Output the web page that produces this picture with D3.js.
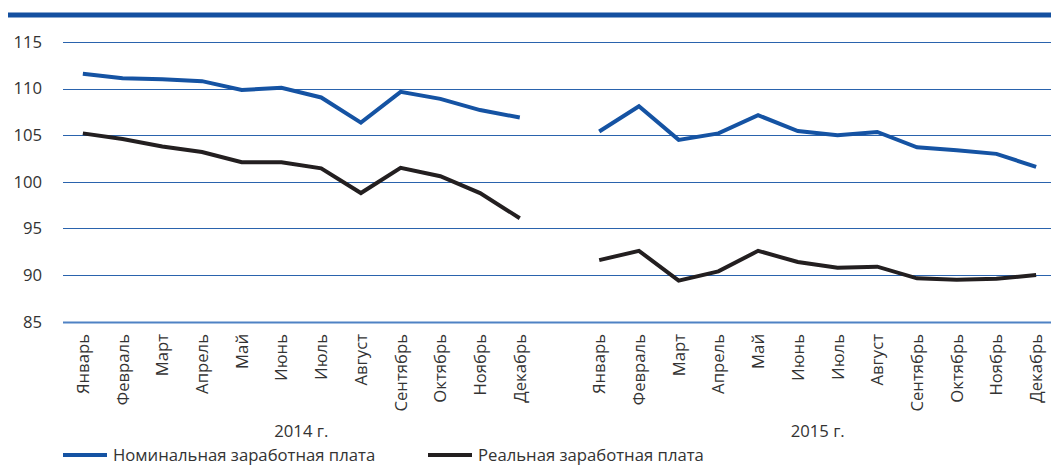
<!DOCTYPE html>
<html>
<head>
<meta charset="utf-8">
<script src="https://cdn.jsdelivr.net/npm/d3@7"></script>
<style>
  body { margin: 0; background: #fff; }
  svg text { font-family: "Open Sans", sans-serif; fill: #333; }
</style>
</head>
<body>
<div class="vis-linechart"></div>
<script>
const months = ["Январь", "Февраль", "Март", "Апрель", "Май", "Июнь", "Июль", "Август", "Сентябрь", "Октябрь", "Ноябрь", "Декабрь"];
const years = ["2014 г.", "2015 г."];
const yTicks = [85, 90, 95, 100, 105, 110, 115];

const nominal2014 = [111.6, 111.1, 111.0, 110.8, 109.85, 110.1, 109.05, 106.35, 109.65, 108.9, 107.7, 106.9];
const real2014 = [105.2, 104.6, 103.8, 103.2, 102.1, 102.1, 101.45, 98.8, 101.5, 100.6, 98.8, 96.1];
const nominal2015 = [105.4, 108.1, 104.5, 105.2, 107.15, 105.45, 105.0, 105.35, 103.7, 103.4, 103.0, 101.6];
const real2015 = [91.6, 92.6, 89.4, 90.4, 92.6, 91.4, 90.8, 90.9, 89.65, 89.5, 89.6, 90.0];

const seriesNames = ["Номинальная заработная плата", "Реальная заработная плата"];
const colors = ["#1553a3", "#231f20"];

const width = 1051, height = 465;
const fontSize = "16.7px";

const svg = d3.select(".vis-linechart")
    .append("svg")
    .attr("width", width)
    .attr("height", height);

// 25 slots: 12 months, one empty slot, 12 months
const keys = [
    ...months.map(m => "2014-" + m),
    "gap",
    ...months.map(m => "2015-" + m)
];

const x = d3.scaleBand()
    .domain(keys)
    .range([63, 1056]);

const y = d3.scaleLinear()
    .domain([85, 115])
    .range([321.7, 42]);

const cx = k => x(k) + x.bandwidth() / 2;

// top rule
svg.append("line")
    .attr("x1", 8).attr("x2", width)
    .attr("y1", 15).attr("y2", 15)
    .attr("stroke", "#1450a0")
    .attr("stroke-width", 5);

// gridlines
svg.append("g")
    .selectAll("line")
    .data(yTicks)
    .join("line")
    .attr("x1", 63).attr("x2", width)
    .attr("y1", d => Math.round(y(d)) + 0.5)
    .attr("y2", d => Math.round(y(d)) + 0.5)
    .attr("stroke", d => d === 85 ? "#4f82c4" : "#2a63ad")
    .attr("stroke-width", d => d === 85 ? 2 : 1);

// y labels
svg.append("g")
    .selectAll("text")
    .data(yTicks)
    .join("text")
    .attr("x", 42)
    .attr("y", d => y(d))
    .attr("dy", "0.35em")
    .attr("text-anchor", "end")
    .style("font-size", fontSize)
    .text(d => d);

// month labels
svg.append("g")
    .selectAll("text")
    .data(keys.filter(k => k !== "gap"))
    .join("text")
    .attr("transform", d => `translate(${cx(d) + 6},334) rotate(-90)`)
    .attr("text-anchor", "end")
    .style("font-size", fontSize)
    .text(d => d.split("-")[1]);

// year labels
years.forEach((yr, i) => {
    const prefix = i === 0 ? "2014-" : "2015-";
    const mid = (cx(prefix + months[0]) + cx(prefix + months[11])) / 2;
    svg.append("text")
        .attr("x", mid)
        .attr("y", 437)
        .attr("text-anchor", "middle")
        .style("font-size", fontSize)
        .text(yr);
});

// lines
const line = d3.line()
    .x(d => cx(d.key))
    .y(d => y(d.value));

const toPoints = (vals, year) => vals.map((v, i) => ({ key: year + "-" + months[i], value: v }));

const segments = [
    { data: toPoints(nominal2014, "2014"), color: colors[0] },
    { data: toPoints(nominal2015, "2015"), color: colors[0] },
    { data: toPoints(real2014, "2014"), color: colors[1] },
    { data: toPoints(real2015, "2015"), color: colors[1] }
];

segments.forEach(s => {
    svg.append("path")
        .datum(s.data)
        .attr("fill", "none")
        .attr("stroke", s.color)
        .attr("stroke-width", 4)
        .attr("stroke-linejoin", "miter")
        .attr("d", line);
});

// legend
const legendX = [63, 428];
seriesNames.forEach((name, i) => {
    const g = svg.append("g")
        .attr("transform", `translate(${legendX[i]},455)`);
    g.append("line")
        .attr("x1", 0).attr("x2", 44)
        .attr("stroke", colors[i])
        .attr("stroke-width", 4);
    g.append("text")
        .attr("x", 50)
        .attr("dy", "0.35em")
        .style("font-size", fontSize)
        .text(name);
});
</script>
</body>
</html>
